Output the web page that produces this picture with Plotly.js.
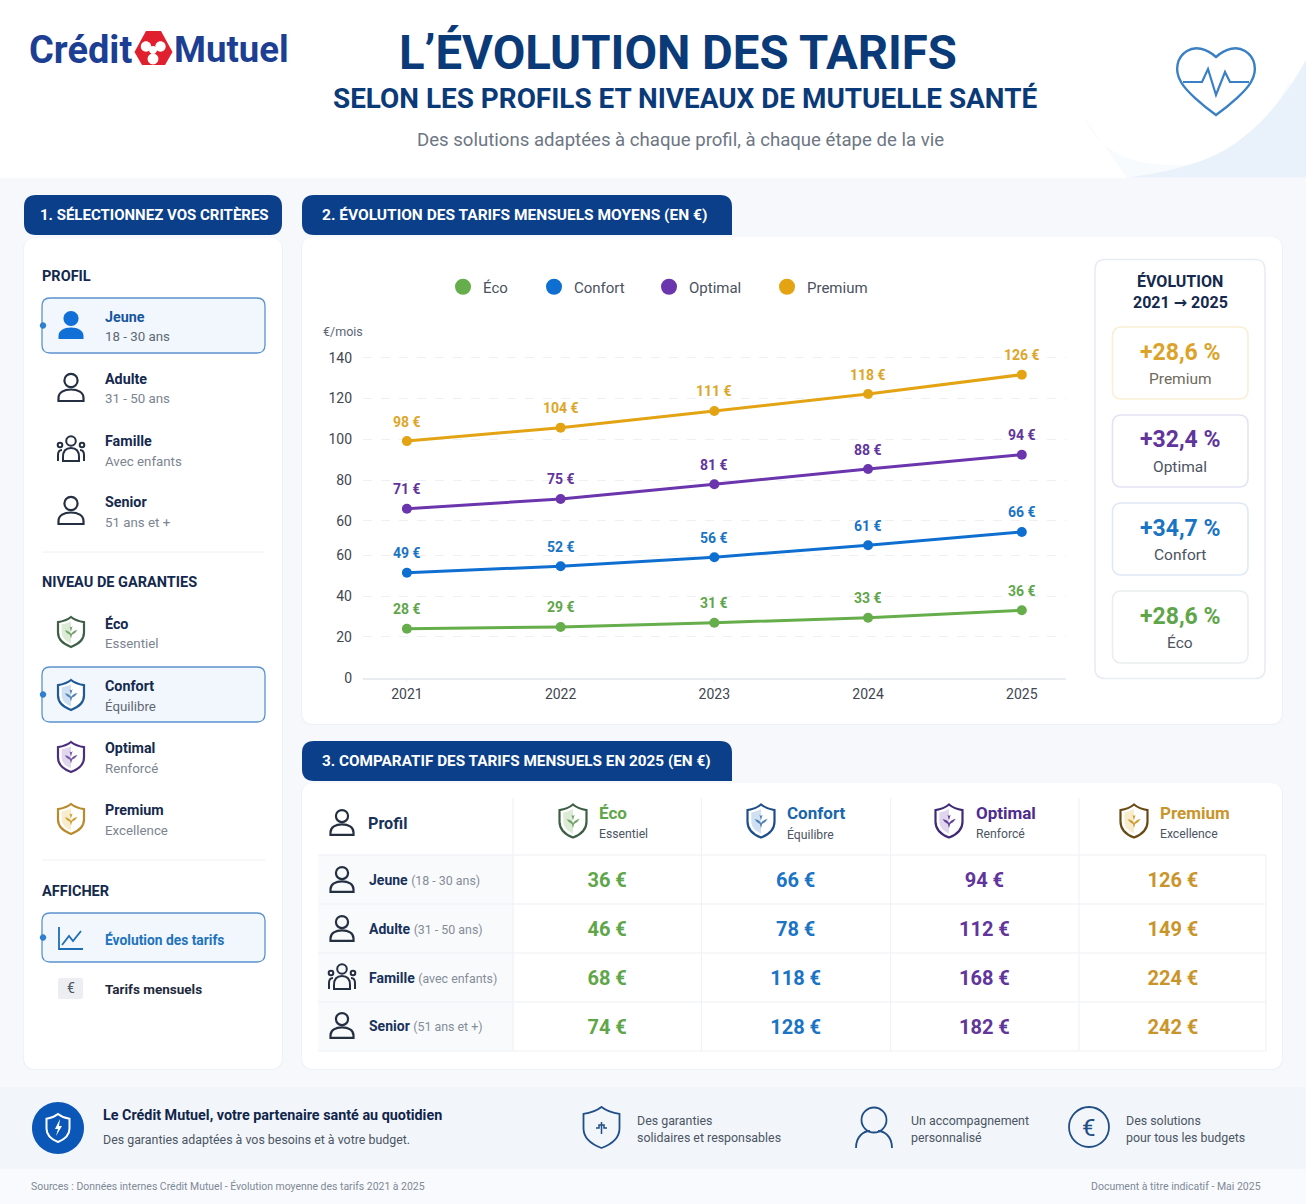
<!DOCTYPE html>
<html lang="fr">
<head>
<meta charset="utf-8">
<title>L'évolution des tarifs</title>
<script src="https://cdn.plot.ly/plotly-3.0.1.min.js"></script>
<style>html,body{margin:0;padding:0;background:#f6f8fc}#chart{width:1306px;height:1204px}</style>
</head>
<body>
<div id="chart"></div>
<script>
// ---------- chart data (heights are read against the reference's own axis, which prints 60 twice) ----------
const years = [2021, 2022, 2023, 2024, 2025];
const seriesNames = ['Éco', 'Confort', 'Optimal', 'Premium'];
const ecoHeights = [24.0, 24.9, 27.0, 29.4, 33.1];
const confortHeights = [51.5, 54.7, 59.1, 65.0, 71.5];
const optimalHeights = [82.9, 87.7, 94.9, 102.4, 109.4];
const premiumHeights = [116.1, 122.7, 130.9, 139.2, 148.7];
const ecoLabels = ['28 €', '29 €', '31 €', '33 €', '36 €'];
const confortLabels = ['49 €', '52 €', '56 €', '61 €', '66 €'];
const optimalLabels = ['71 €', '75 €', '81 €', '88 €', '94 €'];
const premiumLabels = ['98 €', '104 €', '111 €', '118 €', '126 €'];
const yTickPositions = [0, 20, 40, 60, 77, 97, 117, 137, 157];
const yTickLabels = ['0', '20', '40', '60', '60', '80', '100', '120', '140'];
// ---------- evolution box ----------
const evolutionNames = ['Premium', 'Optimal', 'Confort', 'Éco'];
const evolutionPct = ['+28,6 %', '+32,4 %', '+34,7 %', '+28,6 %'];
// ---------- table ----------
const tableProfiles = ['Jeune', 'Adulte', 'Famille', 'Senior'];
const tableProfileNotes = ['(18 - 30 ans)', '(31 - 50 ans)', '(avec enfants)', '(51 ans et +)'];
const tableEco = [36, 46, 68, 74];
const tableConfort = [66, 78, 118, 128];
const tableOptimal = [94, 112, 168, 182];
const tablePremium = [126, 149, 224, 242];
const levelNotes = ['Essentiel', 'Équilibre', 'Renforcé', 'Excellence'];
// ---------- side panel ----------
const profileRows = [['Jeune', '18 - 30 ans'], ['Adulte', '31 - 50 ans'], ['Famille', 'Avec enfants'], ['Senior', '51 ans et +']];

const W = 1306, H = 1204;
const NAVY = '#0b3f8a', INK = '#14294d', GREY = '#7b8490';
const C = {eco: '#66ad4b', confort: '#0f6fd1', optimal: '#6b35ad', premium: '#e3a312'};
const TXT = {eco: '#5fa64a', confort: '#1a74c4', optimal: '#61359b', premium: '#c9952a'};
const seriesColors = [C.eco, C.confort, C.optimal, C.premium];
const FONT = 'Roboto, sans-serif';

const X = v => v / W, Y = v => 1 - v / H;
const shapes = [], annotations = [];

function path(d, o) {
  o = o || {};
  let isX = true;
  const converted = d.replace(/-?\d+(\.\d+)?/g, m => {
    const r = isX ? X(+m) : Y(+m);
    isX = !isX;
    return r.toFixed(6);
  });
  shapes.push({type: 'path', xref: 'paper', yref: 'paper', layer: 'below', path: converted,
    fillcolor: o.fill || 'rgba(0,0,0,0)',
    line: {color: o.color || 'rgba(0,0,0,0)', width: o.width === undefined ? 0 : o.width, dash: o.dash || 'solid'}});
}
function rrect(x0, y0, x1, y1, r, o) {
  let rs = Array.isArray(r) ? r : [r, r, r, r]; // tl tr br bl
  const [a, b, c, e] = rs;
  path(`M ${x0 + a} ${y0} L ${x1 - b} ${y0} Q ${x1} ${y0} ${x1} ${y0 + b} L ${x1} ${y1 - c} Q ${x1} ${y1} ${x1 - c} ${y1} L ${x0 + e} ${y1} Q ${x0} ${y1} ${x0} ${y1 - e} L ${x0} ${y0 + a} Q ${x0} ${y0} ${x0 + a} ${y0} Z`, o);
}
function circle(cx, cy, r, o) {
  const k = r * 0.5523;
  path(`M ${cx - r} ${cy} C ${cx - r} ${cy - k} ${cx - k} ${cy - r} ${cx} ${cy - r} C ${cx + k} ${cy - r} ${cx + r} ${cy - k} ${cx + r} ${cy} C ${cx + r} ${cy + k} ${cx + k} ${cy + r} ${cx} ${cy + r} C ${cx - k} ${cy + r} ${cx - r} ${cy + k} ${cx - r} ${cy} Z`, o);
}
function seg(x0, y0, x1, y1, color, width) { path(`M ${x0} ${y0} L ${x1} ${y1}`, {color, width}); }
function T(text, x, y, o) {
  o = o || {};
  annotations.push({text: o.bold ? `<b>${text}</b>` : text, xref: 'paper', yref: 'paper', x: X(x), y: Y(y),
    xanchor: o.anchor || 'left', yanchor: 'middle', showarrow: false, borderpad: 0, borderwidth: 0,
    align: o.anchor === 'center' ? 'center' : (o.anchor === 'right' ? 'right' : 'left'),
    font: {family: FONT, size: o.size || 14, color: o.color || INK}});
}

// ---------- icons ----------
function person(cx, cy, s, color, filled, w) {
  w = w || 2.2;
  const o = filled ? {fill: color} : {color, width: w};
  circle(cx, cy - 7.5 * s, (filled ? 7.5 : 6.6) * s, o);
  const l = cx - 12.5 * s, rr = cx + 12.5 * s, b = cy + 13 * s, t = cy + 1.5 * s;
  path(`M ${l} ${b} L ${l} ${b - 3 * s} C ${l} ${t + 3 * s} ${cx - 7 * s} ${t} ${cx} ${t} C ${cx + 7 * s} ${t} ${rr} ${t + 3 * s} ${rr} ${b - 3 * s} L ${rr} ${b} Z`, o);
}
function family(cx, cy, s, color) {
  const w = 2;
  circle(cx, cy - 8 * s, 4.8 * s, {color, width: w});
  path(`M ${cx - 8 * s} ${cy + 12 * s} L ${cx - 8 * s} ${cy + 8 * s} C ${cx - 8 * s} ${cy + 1 * s} ${cx - 4 * s} ${cy - 1 * s} ${cx} ${cy - 1 * s} C ${cx + 4 * s} ${cy - 1 * s} ${cx + 8 * s} ${cy + 1 * s} ${cx + 8 * s} ${cy + 8 * s} L ${cx + 8 * s} ${cy + 12 * s} Z`, {color, width: w});
  circle(cx - 11 * s, cy - 4 * s, 2.3 * s, {color, width: w});
  circle(cx + 11 * s, cy - 4 * s, 2.3 * s, {color, width: w});
  path(`M ${cx - 13 * s} ${cy + 12 * s} L ${cx - 13 * s} ${cy + 6 * s} C ${cx - 13 * s} ${cy + 2 * s} ${cx - 11 * s} ${cy + 1 * s} ${cx - 9 * s} ${cy + 1 * s}`, {color, width: w});
  path(`M ${cx + 13 * s} ${cy + 12 * s} L ${cx + 13 * s} ${cy + 6 * s} C ${cx + 13 * s} ${cy + 2 * s} ${cx + 11 * s} ${cy + 1 * s} ${cx + 9 * s} ${cy + 1 * s}`, {color, width: w});
}
function shieldOutline(cx, cy, w, h) {
  const t = cy - h / 2, b = cy + h / 2, l = cx - w / 2, r = cx + w / 2;
  return `M ${cx} ${t} C ${cx + w * 0.18} ${t + h * 0.12} ${cx + w * 0.34} ${t + h * 0.15} ${r} ${t + h * 0.17} L ${r} ${cy + h * 0.02} C ${r} ${cy + h * 0.28} ${cx + w * 0.22} ${b - h * 0.07} ${cx} ${b} C ${cx - w * 0.22} ${b - h * 0.07} ${l} ${cy + h * 0.28} ${l} ${cy + h * 0.02} L ${l} ${t + h * 0.17} C ${cx - w * 0.34} ${t + h * 0.15} ${cx - w * 0.18} ${t + h * 0.12} ${cx} ${t} Z`;
}
function shield(cx, cy, w, h, color, pale, mid) {
  path(shieldOutline(cx, cy, w - 3, h - 3), {fill: '#ffffff'});
  const t = cy - h * 0.36, b = cy + h * 0.38, l = cx - w * 0.36;
  path(`M ${cx} ${t} L ${cx} ${b} C ${cx - w * 0.2} ${b - h * 0.08} ${l} ${cy + h * 0.2} ${l} ${cy} L ${l} ${t + h * 0.1} C ${cx - w * 0.2} ${t + h * 0.08} ${cx - w * 0.1} ${t + h * 0.05} ${cx} ${t} Z`, {fill: pale});
  path(shieldOutline(cx, cy, w, h), {color, width: 2.2});
  path(`M ${cx - w * 0.24} ${cy - h * 0.06} Q ${cx - w * 0.04} ${cy - h * 0.03} ${cx} ${cy + h * 0.07} Q ${cx + w * 0.06} ${cy - h * 0.04} ${cx + w * 0.25} ${cy - h * 0.07} Q ${cx + w * 0.16} ${cy + h * 0.06} ${cx + w * 0.04} ${cy + h * 0.09} L ${cx} ${cy + h * 0.22} L ${cx - w * 0.04} ${cy + h * 0.09} Q ${cx - w * 0.16} ${cy + h * 0.06} ${cx - w * 0.24} ${cy - h * 0.06} Z`, {fill: mid});
  path(`M ${cx - w * 0.06} ${cy - h * 0.2} L ${cx} ${cy - h * 0.02} L ${cx + w * 0.06} ${cy - h * 0.2} Q ${cx} ${cy - h * 0.12} ${cx - w * 0.06} ${cy - h * 0.2} Z`, {fill: mid});
}
const SH = {
  eco: ['#3e5f45', '#dcebd6', '#71a268'],
  confort: ['#1f5a94', '#cfe0f3', '#4f80b4'],
  optimal: ['#4b2f7e', '#e0d6ee', '#73549f'],
  premium: ['#b98a2b', '#f8eccd', '#cf9d32']
};
const SH2 = {
  eco: ['#3e5f45', '#dcebd6', '#71a268'],
  confort: ['#1f4f8a', '#cfe0f3', '#4f80b4'],
  optimal: ['#3f2a78', '#e0d6ee', '#5f3f95'],
  premium: ['#6a4a14', '#f8eccd', '#cf9d32']
};

// ---------- page background ----------
rrect(0, 0, W, 178, 0, {fill: '#ffffff'});
path('M 1085 118 Q 1105 168 1185 165 Q 1255 150 1290 80 L 1306 178 L 1127 178 Z', {fill: '#f8fbfe'});
path('M 1127 177.5 Q 1190 170 1225 150 Q 1272 122 1306 60 L 1306 177.5 Z', {fill: '#e9f1fb'});
rrect(0, 178, W, 1087, 0, {fill: '#f6f8fc'});
rrect(0, 1087, W, 1169, 0, {fill: '#f2f5fa'});
rrect(0, 1169, W, H, 0, {fill: '#f8fafd'});

// ---------- logo ----------
path('M 146 31 L 161 31 L 172.5 52 L 165 65 L 142 65 L 134.5 52 Z', {fill: '#e0202e'});
circle(146, 46.5, 5.2, {fill: '#ffffff'});
circle(160.5, 46.5, 5.2, {fill: '#ffffff'});
circle(153, 59, 5.4, {fill: '#ffffff'});
circle(153, 50, 4, {fill: '#ffffff'});
T('Crédit', 29, 50, {size: 38, bold: true, color: '#1c3f94'});
T('Mutuel', 174, 50, {size: 36.5, bold: true, color: '#1c3f94'});

// ---------- titles ----------
T('L’ÉVOLUTION DES TARIFS', 678, 53, {size: 47.3, bold: true, color: '#0b3a78', anchor: 'center'});
T('SELON LES PROFILS ET NIVEAUX DE MUTUELLE SANTÉ', 685, 99, {size: 27.9, bold: true, color: '#0b3a78', anchor: 'center'});
T('Des solutions adaptées à chaque profil, à chaque étape de la vie', 680, 140, {size: 18.6, color: '#6d7683', anchor: 'center'});

// ---------- heart ----------
path('M 1216 57 C 1206 48 1195 46 1187 51 C 1177 57 1174 70 1181 82 C 1186 91 1202 105 1216 115 C 1230 105 1246 91 1251 82 C 1258 70 1255 57 1245 51 C 1237 46 1226 48 1216 57 Z', {color: '#3a80c4', width: 2.4});
path('M 1183 82 L 1202 82 L 1208 69 L 1216 95 L 1225 72 L 1230 82 L 1249 82', {color: '#3a80c4', width: 2.2});

// ---------- section headers ----------
rrect(24, 195, 282, 235, 12, {fill: NAVY});
rrect(302, 195, 732, 235, [12, 12, 0, 12], {fill: NAVY});
rrect(302, 741, 732, 781, [12, 12, 0, 12], {fill: NAVY});
T('1. SÉLECTIONNEZ VOS CRITÈRES', 40, 215.5, {size: 15, bold: true, color: '#ffffff'});
T('2. ÉVOLUTION DES TARIFS MENSUELS MOYENS (EN €)', 322, 215.5, {size: 15.5, bold: true, color: '#ffffff'});
T('3. COMPARATIF DES TARIFS MENSUELS EN 2025 (EN €)', 322, 761, {size: 15.3, bold: true, color: '#ffffff'});

// ---------- cards ----------
rrect(23, 238, 283, 1070, 12, {fill: '#eef1f7'});
rrect(301, 237, 1283, 725, 12, {fill: '#eef1f7'});
rrect(301, 783, 1283, 1070, 12, {fill: '#eef1f7'});
rrect(24, 238, 282, 1069, 12, {fill: '#ffffff'});
rrect(302, 237, 1282, 724, 12, {fill: '#ffffff'});
rrect(302, 783, 1282, 1069, 12, {fill: '#ffffff'});

// ---------- side panel ----------
function selBox(y0, y1) {
  rrect(42, y0, 265, y1, 8, {fill: '#f1f7fc', color: '#5b93cc', width: 1.3});
  circle(43, (y0 + y1) / 2, 3.2, {fill: '#2f7fd0'});
}
T('PROFIL', 42, 276.5, {size: 14.5, bold: true});
selBox(298, 353);
const rowY = [[317.2, 337], [379.2, 399], [441, 461], [502, 522]];
profileRows.forEach((r, i) => {
  T(r[0], 105, rowY[i][0], {size: 14.3, bold: true, color: i === 0 ? '#17569f' : INK});
  T(r[1], 105, rowY[i][1], {size: 13.3, color: i === 0 ? '#5e6875' : GREY});
});
person(71, 326, 1, '#1170d8', true);
person(71, 388, 1, '#252f42', false);
family(71, 449, 1, '#252f42');
person(71, 511, 1, '#252f42', false);
seg(42, 552, 265, 552, '#edf0f4', 1);
T('NIVEAU DE GARANTIES', 42, 582.5, {size: 14.5, bold: true});
selBox(667, 722);
const levelKeys = ['eco', 'confort', 'optimal', 'premium'];
const levelY = [[623, 644], [686, 706], [748, 768], [810, 830]];
seriesNames.forEach((n, i) => {
  T(n, 105, levelY[i][0], {size: 14.3, bold: true});
  T(levelNotes[i], 105, levelY[i][1], {size: 13.3, color: i === 1 ? '#5e6875' : GREY});
  const s = SH[levelKeys[i]];
  shield(71, levelY[i][0] + 9, 26, 30, s[0], s[1], s[2]);
});
seg(42, 860, 265, 860, '#edf0f4', 1);
T('AFFICHER', 42, 891, {size: 14.5, bold: true});
selBox(913, 962);
path('M 59 927 L 59 949 L 83 949', {color: '#1f6db5', width: 1.8});
path('M 62 945 L 69 936 L 73 941 L 81 931', {color: '#1f6db5', width: 1.8});
T('Évolution des tarifs', 105, 939, {size: 13.8, bold: true, color: '#1f73bd'});
rrect(58, 978, 83, 999, 2, {fill: '#eceef2'});
T('€', 70.5, 988.5, {size: 14, color: '#4b5563', anchor: 'center'});
T('Tarifs mensuels', 105, 989, {size: 13.5, bold: true, color: '#1e2a3c'});

// ---------- evolution box ----------
rrect(1095, 259.5, 1265, 678.5, 10, {fill: '#ffffff', color: '#e8ecf3', width: 1.6});
T('ÉVOLUTION', 1180, 281, {size: 16, bold: true, anchor: 'center'});
T('2021 <span style="font-family:\'DejaVu Sans\'">→</span> 2025', 1180, 302, {size: 16, bold: true, anchor: 'center'});
const evoKeys = ['premium', 'optimal', 'confort', 'eco'];
const evoBorders = ['#f9efd5', '#e2e4f2', '#dfe9f5', '#eaeef0'];
const evoTop = [327, 415, 503, 591];
const evoLabelColor = ['#6f6a5c', '#4c5360', '#4c5360', '#4c5360'];
evolutionNames.forEach((n, i) => {
  rrect(1112.5, evoTop[i], 1248, evoTop[i] + 72, 9, {fill: '#ffffff', color: evoBorders[i], width: 1.6});
  T(evolutionPct[i], 1180, evoTop[i] + 25, {size: 23, bold: true, color: TXT[evoKeys[i]] === TXT.premium ? '#dba32a' : TXT[evoKeys[i]], anchor: 'center'});
  T(n, 1180, evoTop[i] + 52, {size: 15.5, color: evoLabelColor[i], anchor: 'center'});
});

// ---------- table scaffolding ----------
rrect(318, 855, 513, 1051, 0, {fill: '#f9fafc'});
[855, 904, 953, 1002, 1051].forEach(y => seg(318, y, 1266, y, '#eef0f4', 1.2));
[513, 701.5, 890.5, 1079].forEach(x => seg(x, 798, x, 1051, '#f0f2f6', 1.2));
seg(1266, 855, 1266, 1051, '#f0f2f6', 1.2);
person(342, 823, 0.92, '#252f42', false);
T('Profil', 368, 823, {size: 16.2, bold: true, color: '#18325a'});
const headCols = [[573, 599], [761, 787], [949, 976], [1134, 1160]];
seriesNames.forEach((n, i) => {
  const k = levelKeys[i], s = SH2[k];
  shield(headCols[i][0], 821, 27, 33, s[0], s[1], s[2]);
  T(n, headCols[i][1], 813, {size: 17, bold: true, color: k === 'optimal' ? '#4e2c90' : (k === 'confort' ? '#1a66ac' : TXT[k])});
  T(levelNotes[i], headCols[i][1], 834, {size: 12.2, color: '#4b5563'});
});
const rowCy = [880, 929, 978, 1026];
tableProfiles.forEach((p, i) => {
  annotations.push({text: `<b>${p}</b> <span style="font-size:12.4px;color:#848d99">${tableProfileNotes[i]}</span>`,
    xref: 'paper', yref: 'paper', x: X(368), y: Y(rowCy[i]), xanchor: 'left', yanchor: 'middle', showarrow: false, borderpad: 0,
    font: {family: FONT, size: 14, color: '#18325a'}});
  if (i === 2) family(342, rowCy[i] - 1, 1, '#252f42');
  else person(342, rowCy[i], 0.92, '#252f42', false);
});

// ---------- footer ----------
circle(58, 1128, 26, {fill: '#0b57b8'});
path(shieldOutline(58, 1128, 23, 28), {color: '#ffffff', width: 2});
path('M 60 1119 L 55 1129 L 58 1129 L 56 1136 L 62 1126 L 59 1126 Z', {fill: '#ffffff'});
T('Le Crédit Mutuel, votre partenaire santé au quotidien', 103, 1115, {size: 14.35, bold: true, color: '#10254a'});
T('Des garanties adaptées à vos besoins et à votre budget.', 103, 1139, {size: 12.4, color: '#4b5563'});
path(shieldOutline(601.5, 1127.5, 36, 41), {color: '#1f4f86', width: 1.8});
path('M 596 1128 L 599 1128 L 599 1125 L 604 1125 L 604 1128 L 607 1128 M 601.5 1122 L 601.5 1134', {color: '#1f4f86', width: 1.5});
T('Des garanties', 636.5, 1120, {size: 12.4, color: '#4b5563'});
T('solidaires et responsables', 636.5, 1137, {size: 12.4, color: '#4b5563'});
circle(874, 1120, 12.5, {color: '#1f4f86', width: 1.8});
path('M 856 1148 C 856 1136 864 1131 870 1131 M 892 1148 C 892 1136 884 1131 878 1131', {color: '#1f4f86', width: 1.8});
T('Un accompagnement', 911, 1120, {size: 12.4, color: '#4b5563'});
T('personnalisé', 911, 1137, {size: 12.4, color: '#4b5563'});
circle(1089, 1127, 20, {color: '#1f4f86', width: 1.8});
T('€', 1089, 1128, {size: 24, color: '#1f4f86', anchor: 'center'});
T('Des solutions', 1126, 1120, {size: 12.4, color: '#4b5563'});
T('pour tous les budgets', 1126, 1137, {size: 12.4, color: '#4b5563'});
T('Sources : Données internes Crédit Mutuel - Évolution moyenne des tarifs 2021 à 2025', 31, 1186, {size: 10.45, color: '#7f8997'});
T('Document à titre indicatif - Mai 2025', 1261, 1186, {size: 10.5, color: '#7f8997', anchor: 'right'});

// ---------- chart ----------
T('€/mois', 323, 332, {size: 12.5, color: '#5d6674'});
const heights = [ecoHeights, confortHeights, optimalHeights, premiumHeights];
const labels = [ecoLabels, confortLabels, optimalLabels, premiumLabels];
const labelColors = ['#5fa64a', '#1a74c4', '#61359b', '#dda629'];
const legendIds = ['legend', 'legend2', 'legend3', 'legend4'];
const legendLeft = [443, 534, 649, 767];
const traces = [];
seriesNames.forEach((n, i) => {
  traces.push({type: 'scatter', mode: 'lines+markers', name: n, x: years, y: heights[i], showlegend: false,
    line: {color: seriesColors[i], width: 3}, marker: {color: seriesColors[i], size: 10}, hovertext: labels[i]});
  years.forEach((yr, j) => annotations.push({text: `<b>${labels[i][j]}</b>`, xref: 'x', yref: 'y', x: yr, y: heights[i][j],
    yshift: 19.5, xanchor: 'center', yanchor: 'middle', showarrow: false, borderpad: 0,
    font: {family: FONT, size: 14, color: labelColors[i]}}));
});
seriesNames.forEach((n, i) => traces.push({type: 'scatter', mode: 'markers', name: n, x: [null], y: [null], showlegend: true,
  legend: legendIds[i], marker: {color: seriesColors[i], size: 16}}));

// ---------- comparison values ----------
const tableCols = [tableEco, tableConfort, tableOptimal, tablePremium];
traces.push({type: 'table', domain: {x: [X(513), X(1268)], y: [Y(1060), Y(844)]},
  columnwidth: [188.5, 189, 189, 188.5],
  header: {values: ['', '', '', ''], height: 16, line: {color: 'rgba(0,0,0,0)', width: 0}, fill: {color: 'rgba(0,0,0,0)'}},
  cells: {values: tableCols.map(c => c.map(v => `<b>${v} €</b>`)), height: 49, align: 'center',
    line: {color: 'rgba(0,0,0,0)', width: 0}, fill: {color: 'rgba(0,0,0,0)'},
    font: {family: FONT, size: 20, color: [TXT.eco, TXT.confort, TXT.optimal, TXT.premium]}}});

const layout = {
  width: W, height: H, autosize: false, margin: {l: 0, r: 0, t: 0, b: 0, pad: 0},
  paper_bgcolor: '#f6f8fc', plot_bgcolor: 'rgba(0,0,0,0)', font: {family: FONT},
  hovermode: false, shapes, annotations,
  xaxis: {domain: [X(363), X(1066)], range: [2021 - 0.2855, 2025 + 0.2875], tickvals: years, ticktext: years.map(String),
    showgrid: false, zeroline: false, showline: true, linecolor: '#e8ebf0', linewidth: 1.5, ticks: 'outside', ticklen: 3, tickcolor: '#eef0f4',
    tickfont: {family: FONT, size: 14, color: '#3f4652'}, fixedrange: true},
  yaxis: {domain: [Y(677.7), Y(340)], range: [0, (677.7 - 340) / 2.038], tickvals: yTickPositions, ticktext: yTickLabels,
    showgrid: true, gridcolor: '#eef0f4', griddash: 'dash', gridwidth: 1, zeroline: false, showline: false, ticks: '',
    ticklabelstandoff: 10, tickfont: {family: FONT, size: 14, color: '#3f4652'}, fixedrange: true}
};
legendIds.forEach((id, i) => {
  layout[id] = {orientation: 'h', x: X(legendLeft[i]), y: Y(287), xanchor: 'left', yanchor: 'middle', bgcolor: 'rgba(0,0,0,0)',
    font: {family: FONT, size: 15, color: '#4a5260'}, itemclick: false, itemdoubleclick: false};
});
Plotly.newPlot('chart', traces, layout, {displayModeBar: false, responsive: false});
</script>
</body>
</html>
